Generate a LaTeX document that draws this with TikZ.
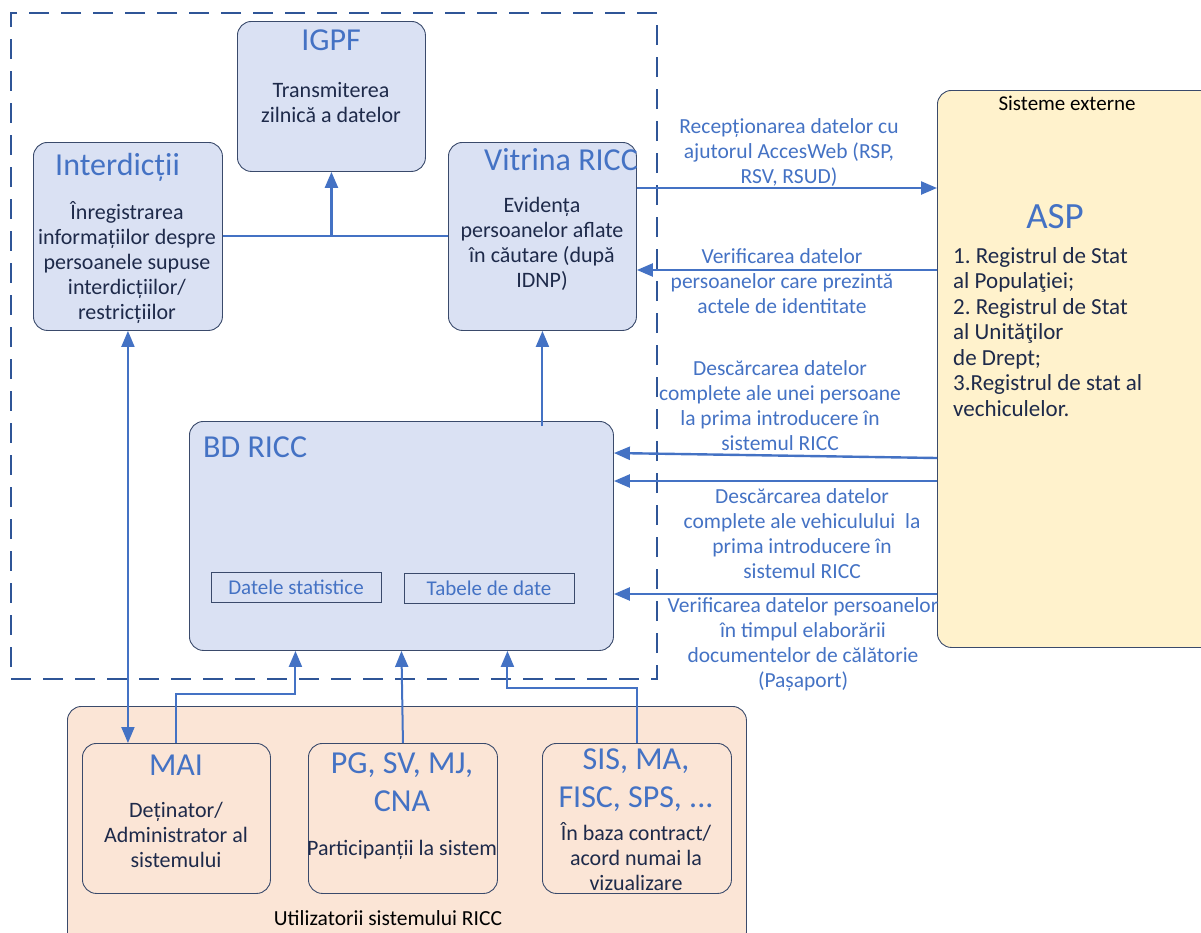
\documentclass[tikz,border=0pt]{standalone}
\usepackage{fontspec}
\setmainfont{Carlito}
\usepackage{xcolor}
\usetikzlibrary{arrows.meta,positioning}
\definecolor{BoxBlue}{HTML}{DAE1F3}
\definecolor{BoxEdge}{HTML}{3A4A6B}
\definecolor{LineBlue}{HTML}{4472C4}
\definecolor{FrameBlue}{HTML}{2F5597}
\definecolor{TextDark}{HTML}{1E2A4A}
\definecolor{ExtYellow}{HTML}{FFF2CC}
\definecolor{UserPeach}{HTML}{FBE5D6}
\frenchspacing

\begin{document}
\begin{tikzpicture}[
  x=1pt, y=-1pt,
  bluebox/.style={rectangle, rounded corners=14pt, draw=BoxEdge, line width=0.9pt, fill=BoxBlue, anchor=north west},
  userbox/.style={rectangle, rounded corners=14pt, draw=BoxEdge, line width=0.9pt, anchor=north west},
  subbox/.style={rectangle, draw=BoxEdge, line width=0.9pt, minimum width=170, minimum height=30, inner sep=0pt, font=\fontsize{21}{24}\selectfont, text=LineBlue},
  title/.style={inner sep=0pt, font=\fontsize{32}{38}\selectfont, text=LineBlue, align=center},
  body/.style={inner sep=0pt, font=\fontsize{22}{25}\selectfont, text=TextDark, align=center},
  flowlabel/.style={inner sep=0pt, font=\fontsize{21.5}{25}\selectfont, text=LineBlue, align=center},
  frame/.style={rectangle, dashed, dash pattern=on 20pt off 12pt, draw=FrameBlue, line width=2.2pt, anchor=north west},
  arrow/.style={-{Triangle[length=16pt,width=13pt]}, line width=2.4pt, LineBlue}
]
\useasboundingbox (0,0) rectangle (1201,932);

% RICC frame
\node[frame, minimum width=646, minimum height=666] (ricc) at (10,12) {};

% Level 1: modules
\node[bluebox, minimum width=188, minimum height=150] (igpf) at (237,21) {};
\node[title] (igpftitle) at (331,40) {IGPF};
\node[body] (igpfbody) at (331,103) {Transmiterea\\zilnică a datelor};

\node[bluebox, minimum width=189, minimum height=188] (interd) at (33,142) {};
\node[title, anchor=west] (interdtitle) at (55,167) {Interdicții};
\node[body] (interdbody) at (127,262) {Înregistrarea\\informațiilor despre\\persoanele supuse\\interdicțiilor/\\restricțiilor};

\node[bluebox, minimum width=188, minimum height=188] (vitrina) at (448,142) {};
\node[title, anchor=west] (vitrinatitle) at (484,160) {Vitrina RICC};
\node[body] (vitrinabody) at (542,244) {Evidența\\persoanelor aflate\\în căutare (după\\IDNP)};

% Level 2: database
\node[bluebox, minimum width=424, minimum height=229] (bd) at (189,421) {};
\node[title, anchor=west] (bdtitle) at (203,447) {BD RICC};
\node[subbox] (stat) at (296,587) {Datele statistice};
\node[subbox] (tab) at (489,588) {Tabele de date};

% External systems
\node[userbox, fill=ExtYellow, minimum width=280, minimum height=557] (ext) at (937,90) {};
\node[inner sep=0pt, font=\fontsize{21}{24}\selectfont] (exttitle) at (1067,103) {Sisteme externe};
\node[title, font=\fontsize{37}{42}\selectfont] (asp) at (1055,217) {ASP};
\node[body, align=left, anchor=west, font=\fontsize{23}{25.5}\selectfont] (asplist) at (953,332) {1. Registrul de Stat\\al Populaţiei;\\2. Registrul de Stat\\al Unităţilor\\de Drept;\\3.Registrul de stat al\\vechiculelor.};

% Users
\node[userbox, fill=UserPeach, minimum width=679, minimum height=240] (users) at (67,706) {};
\node[inner sep=0pt, font=\fontsize{21.5}{24}\selectfont] (userstitle) at (388,918) {Utilizatorii sistemului RICC};

\node[userbox, minimum width=188, minimum height=150] (mai) at (82,743) {};
\node[title] (maititle) at (176,765) {MAI};
\node[body] (maibody) at (176,835) {Deținator/\\Administrator al\\sistemului};

\node[userbox, minimum width=189, minimum height=150] (pg) at (308,743) {};
\node[title] (pgtitle) at (402,782) {PG, SV, MJ,\\CNA};
\node[body] (pgbody) at (402,850) {Participanții la sistem};

\node[userbox, minimum width=189, minimum height=150] (sis) at (542,743) {};
\node[title] (sistitle) at (636,780) {SIS, MA,\\FISC, SPS, ...};
\node[body] (sisbody) at (636,857) {În baza contract/\\acord numai la\\vizualizare};

% Arrows inside the frame
\draw[LineBlue, line width=2.4pt] (interd.east |- 0,236) -- (vitrina.west |- 0,236);
\draw[arrow] (igpf.south |- 0,236) -- (igpf.south);
\draw[arrow, line width=2pt] (vitrina.south |- 0,426) -- (vitrina.south);

% Arrows to and from the external systems
\draw[arrow] (vitrina.east |- 0,188) -- (ext.west |- 0,188);
\node[flowlabel] (l1) at (789,153) {Recepționarea datelor cu\\ajutorul AccesWeb (RSP,\\RSV, RSUD)};
\draw[arrow] (ext.west |- 0,270) -- (vitrina.east |- 0,270);
\node[flowlabel] (l2) at (782,281) {Verificarea datelor\\persoanelor care prezintă\\actele de identitate};
\draw[arrow] (ext.west |- 0,458) -- (bd.east |- 0,453);
\node[flowlabel] (l3) at (780,406) {Descărcarea datelor\\complete ale unei persoane\\la prima introducere în\\sistemul RICC};
\draw[arrow] (ext.west |- 0,481) -- (bd.east |- 0,481);
\node[flowlabel] (l4) at (802,534) {Descărcarea datelor\\complete ale vehiculului\ \ la\\prima introducere în\\sistemul RICC};
\draw[arrow] (ext.west |- 0,594) -- (bd.east |- 0,594);
\node[flowlabel] (l5) at (803,644) {Verificarea datelor persoanelor\\în timpul elaborării\\documentelor de călătorie\\(Pașaport)};

% Arrows from the users
\draw[arrow, {Triangle[length=16pt,width=13pt]}-{Triangle[length=16pt,width=13pt]}, line width=2pt] (interd.south) -- (mai.north -| interd.south);
\draw[arrow, line width=2pt] (mai.north) -- ++(0,-49) -| ([xshift=-106pt]bd.south);
\draw[arrow, line width=2pt] (pg.north) -- (bd.south);
\draw[arrow, line width=2pt] (sis.north) -- ++(0,-55) -| ([xshift=106pt]bd.south);

\end{tikzpicture}
\end{document}
